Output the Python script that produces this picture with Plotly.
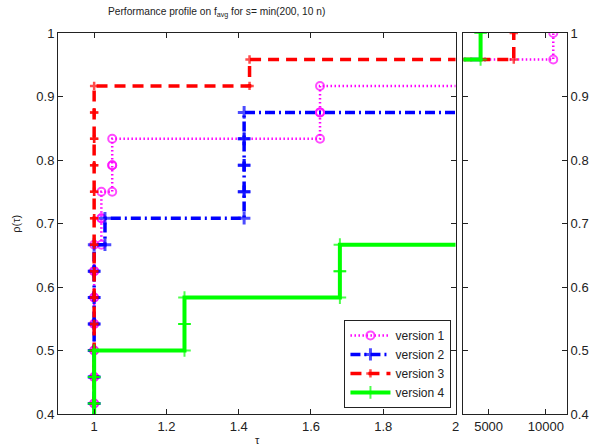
import plotly.graph_objects as go

N_PROBLEMS = 24

# Sorted performance ratios per problem (values > 2 and < ~2800 fall in the gap between panels)
v1_ratios = [1.0, 1.0, 1.0, 1.0, 1.0, 1.0, 1.0, 1.0, 1.0, 1.0, 1.0, 1.0, 1.0, 1.0, 1.0, 1.0,
             1.02, 1.02, 1.05, 1.05, 1.625, 1.625, 40.0, 10650.0]
v2_ratios = [1.0, 1.0, 1.0, 1.0, 1.0, 1.0, 1.0, 1.0, 1.0, 1.0, 1.0, 1.0, 1.0, 1.0, 1.0, 1.0,
             1.03, 1.415, 1.415, 1.415, 1.415, 3.0, 60.0]
v2_end = 4800.0
v3_ratios = [1.0, 1.0, 1.0, 1.0, 1.0, 1.0, 1.0, 1.0, 1.0, 1.0, 1.0, 1.0, 1.0, 1.0, 1.0, 1.0,
             1.0, 1.0, 1.0, 1.0, 1.0, 1.0, 1.43, 7200.0]
v4_ratios = [1.0, 1.0, 1.0, 1.0, 1.0, 1.0, 1.0, 1.0, 1.0, 1.0, 1.0, 1.0,
             1.25, 1.25, 1.68, 1.68, 2.2, 2.6, 3.5, 6.0, 15.0, 80.0, 400.0, 4300.0]

names = ["version 1", "version 2", "version 3", "version 4"]
colors = ["#FF00FF", "#0000FF", "#FF0000", "#00FF00"]

left_ticks = [1, 1.2, 1.4, 1.6, 1.8, 2]
right_ticks = [5000, 10000]
y_ticks = [0.4, 0.5, 0.6, 0.7, 0.8, 0.9, 1]


def stairs(ratios, end=None):
    xs, ys, sizes = [], [], []
    for k, t in enumerate(ratios, 1):
        if k > 1:
            xs.append(t)
            ys.append((k - 1) / N_PROBLEMS)
            sizes.append(1)
        xs.append(t)
        ys.append(k / N_PROBLEMS)
        sizes.append(1)
    if end is not None:
        xs.append(end)
        ys.append(len(ratios) / N_PROBLEMS)
        sizes.append(0)
    return xs, ys, sizes


series = [
    (v1_ratios, None, dict(dash="1.5px,2.5px", width=2.5),
     dict(symbol="circle-open", size=8, line=dict(width=2))),
    (v2_ratios, v2_end, dict(dash="10px,4px,2px,4px", width=3.5),
     dict(symbol="cross-thin-open", size=9, line=dict(width=3))),
    (v3_ratios, None, dict(dash="11px,7px", width=3.5),
     dict(symbol="cross-thin-open", size=6, line=dict(width=2.5))),
    (v4_ratios, None, dict(dash="solid", width=4),
     dict(symbol="cross-thin-open", size=9, line=dict(width=2))),
]

fig = go.Figure()
for (ratios, end, line, marker), name, col in zip(series, names, colors):
    xs, ys, sizes = stairs(ratios, end)
    msz = [s * marker["size"] for s in sizes]
    for axx, axy, show in (("x", "y", True), ("x2", "y2", False)):
        fig.add_trace(go.Scatter(
            x=xs, y=ys, mode="lines+markers", name=name, showlegend=show,
            xaxis=axx, yaxis=axy,
            line=dict(color=col, width=line["width"], dash=line["dash"]),
            marker=dict(symbol=marker["symbol"], size=msz, color=col,
                        line=dict(color=col, width=marker["line"]["width"])),
        ))

axis_common = dict(showline=True, linecolor="#222", linewidth=1, mirror="ticks",
                   ticks="inside", ticklen=5, tickcolor="#222", showgrid=False,
                   zeroline=False, tickfont=dict(family="Liberation Sans", size=13, color="#222"))

fig.update_layout(
    width=601, height=446,
    margin=dict(l=58, r=32, t=33, b=32),
    paper_bgcolor="white", plot_bgcolor="white",
    font=dict(family="Liberation Sans", size=12, color="#222"),
    xaxis=dict(domain=[0, 0.781], range=[0.9, 2], tickvals=left_ticks,
               ticktext=[f"{v:g}" for v in left_ticks], anchor="y", **axis_common),
    yaxis=dict(domain=[0, 1], range=[0.4, 1], tickvals=y_ticks,
               ticktext=[f"{v:g}" for v in y_ticks], anchor="x", **axis_common),
    xaxis2=dict(domain=[0.7965, 1], range=[2800, 11850], tickvals=right_ticks,
                ticktext=[str(v) for v in right_ticks], anchor="y2", **axis_common),
    yaxis2=dict(domain=[0, 1], range=[0.4, 1], tickvals=y_ticks,
                ticktext=[f"{v:g}" for v in y_ticks], anchor="x2", side="right", **axis_common),
    legend=dict(x=0.773, xanchor="right", y=0.016, yanchor="bottom",
                bgcolor="white", bordercolor="#222", borderwidth=1,
                font=dict(family="Liberation Sans", size=12, color="#222"),
                tracegroupgap=0, itemwidth=40),
    showlegend=True,
    annotations=[
        dict(text="Performance profile on f<sub>avg</sub> for s= min(200, 10 n)",
             xref="paper", yref="paper", x=0.094, y=1.055, showarrow=False,
             xanchor="left", yanchor="middle", font=dict(size=10.2)),
        dict(text="ρ(τ)", xref="paper", yref="paper", x=-0.084, y=0.5, textangle=-90,
             showarrow=False, xanchor="center", yanchor="middle", font=dict(size=11)),
        dict(text="τ", xref="paper", yref="paper", x=0.391, y=-0.046, showarrow=False,
             xanchor="center", yanchor="top", font=dict(size=11)),
    ],
)

fig.write_html("out.html", config={"displayModeBar": False},
               post_script="document.body.style.margin='0';document.body.style.padding='0';")
